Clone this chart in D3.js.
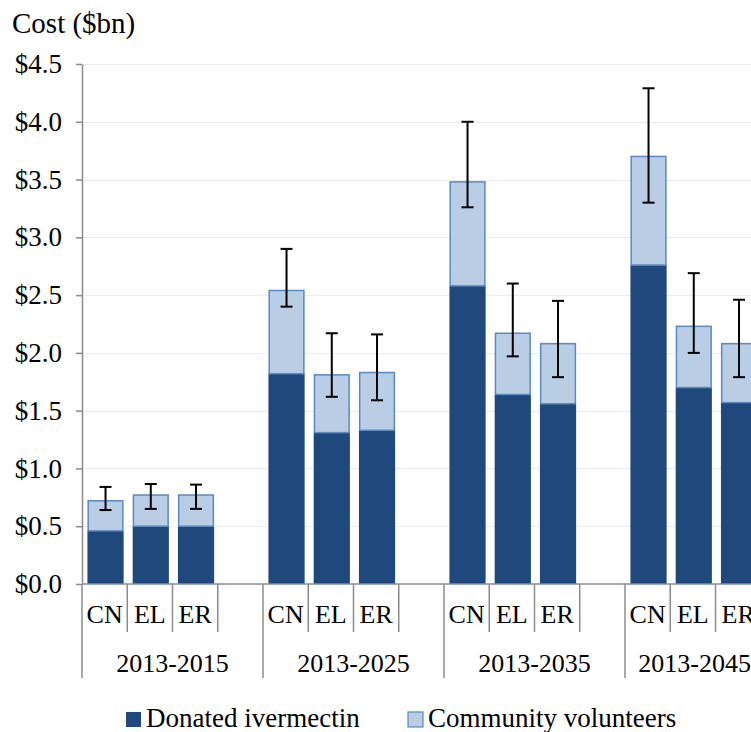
<!DOCTYPE html>
<html>
<head>
<meta charset="utf-8">
<script src="https://cdn.jsdelivr.net/npm/d3@7"></script>
<style>
  body { margin: 0; background: #fff; }
  svg { display: block; font-family: "Liberation Serif", "Times New Roman", serif; }
</style>
</head>
<body>
<svg id="chart"></svg>
<script>
const width = 751,
    height = 732,
    margin = ({ top: 64, left: 82, bottom: 148 }),
    plotRight = 806;

// data
const periods = ["2013-2015", "2013-2025", "2013-2035", "2013-2045"];
const scenarios = ["CN", "EL", "ER"];
const ivermectin = [
  [0.46, 0.50, 0.50],
  [1.82, 1.31, 1.33],
  [2.58, 1.64, 1.56],
  [2.76, 1.70, 1.57]
];
const volunteers = [
  [0.26, 0.27, 0.27],
  [0.72, 0.50, 0.50],
  [0.90, 0.53, 0.52],
  [0.94, 0.53, 0.51]
];
const errLow = [
  [0.64, 0.65, 0.65],
  [2.40, 1.62, 1.59],
  [3.26, 1.97, 1.79],
  [3.30, 2.00, 1.79]
];
const errHigh = [
  [0.84, 0.865, 0.86],
  [2.90, 2.17, 2.16],
  [4.00, 2.60, 2.45],
  [4.29, 2.69, 2.46]
];
const yTicks = [0, 0.5, 1, 1.5, 2, 2.5, 3, 3.5, 4, 4.5];

const rows = [];
periods.forEach((p, i) => {
  scenarios.forEach((s, j) => {
    rows.push({
      period: p, scenario: s,
      dark: ivermectin[i][j],
      light: volunteers[i][j],
      lo: errLow[i][j],
      hi: errHigh[i][j]
    });
  });
});

const svg = d3.select("#chart").attr("width", width).attr("height", height);

const y = d3.scaleLinear().domain([0, 4.5]).range([height - margin.bottom, margin.top]);
const x0 = d3.scaleBand().domain(periods).range([margin.left, plotRight]);
// 4 slots per group, the last one stays empty
const slot = x0.bandwidth() / 4;

// gridlines
svg.append("g")
  .selectAll("line")
  .data(yTicks.slice(1))
  .join("line")
  .attr("x1", margin.left)
  .attr("x2", width)
  .attr("y1", d => Math.round(y(d)) + 0.5)
  .attr("y2", d => Math.round(y(d)) + 0.5)
  .attr("stroke", "#ececec")
  .attr("stroke-width", 1.2);

// y axis
const yAxis = svg.append("g")
  .attr("transform", `translate(${margin.left},0)`)
  .call(d3.axisLeft(y).tickValues(yTicks).tickFormat(d => "$" + d.toFixed(1)).tickSize(6).tickSizeOuter(0));
yAxis.select(".domain").attr("stroke", "#8c8c8c").attr("stroke-width", 1.5);
yAxis.selectAll(".tick line").attr("stroke", "#8c8c8c").attr("stroke-width", 1.5);
yAxis.selectAll(".tick text")
  .attr("x", -20)
  .attr("fill", "#000")
  .style("font-size", "27px")
  .style("font-family", "Liberation Serif, serif");

svg.append("text")
  .attr("x", 12)
  .attr("y", 33)
  .style("font-size", "29px")
  .text("Cost ($bn)");

// bars
const bars = svg.append("g")
  .selectAll("g")
  .data(rows)
  .join("g")
  .attr("transform", d => `translate(${x0(d.period) + slot * scenarios.indexOf(d.scenario)},0)`);

const bw = slot * 0.8, bx = slot * 0.12;

bars.append("rect")
  .attr("x", bx)
  .attr("width", bw)
  .attr("y", d => y(d.dark))
  .attr("height", d => y(0) - y(d.dark))
  .attr("fill", "#1f497d");

bars.append("rect")
  .attr("x", bx + 0.75)
  .attr("width", bw - 1.5)
  .attr("y", d => y(d.dark + d.light))
  .attr("height", d => y(d.dark) - y(d.dark + d.light))
  .attr("fill", "#b9cde5")
  .attr("stroke", "#5a89c4")
  .attr("stroke-width", 1.5);

// error bars
const cx = bx + bw / 2;
bars.append("line")
  .attr("x1", cx).attr("x2", cx)
  .attr("y1", d => y(d.lo)).attr("y2", d => y(d.hi))
  .attr("stroke", "#000").attr("stroke-width", 2);
bars.selectAll(".cap")
  .data(d => [d.lo, d.hi])
  .join("line")
  .attr("class", "cap")
  .attr("x1", cx - 6).attr("x2", cx + 6)
  .attr("y1", d => y(d)).attr("y2", d => y(d))
  .attr("stroke", "#000").attr("stroke-width", 2);

// x axis baseline
const base = y(0);
svg.append("line")
  .attr("x1", margin.left).attr("x2", width)
  .attr("y1", base).attr("y2", base)
  .attr("stroke", "#8c8c8c").attr("stroke-width", 1.5);

// separators and labels
const groups = svg.append("g").selectAll("g")
  .data(periods)
  .join("g")
  .attr("transform", d => `translate(${x0(d)},0)`);

groups.append("line")
  .attr("x1", 0).attr("x2", 0)
  .attr("y1", base).attr("y2", base + 94)
  .attr("stroke", "#8c8c8c").attr("stroke-width", 1.5);

groups.selectAll(".sub")
  .data([1, 2, 3])
  .join("line")
  .attr("class", "sub")
  .attr("x1", d => d * slot).attr("x2", d => d * slot)
  .attr("y1", base).attr("y2", base + 48)
  .attr("stroke", "#8c8c8c").attr("stroke-width", 1.5);

groups.selectAll(".lab")
  .data(scenarios)
  .join("text")
  .attr("class", "lab")
  .attr("x", (d, i) => i * slot + slot / 2)
  .attr("y", base + 39)
  .attr("text-anchor", "middle")
  .style("font-size", "26px")
  .text(d => d);

// period labels, kept inside the visible area like the original
groups.append("text")
  .attr("y", base + 88)
  .attr("text-anchor", "middle")
  .style("font-size", "26px")
  .text(d => d)
  .attr("x", function (d) {
    const w = this.getComputedTextLength();
    const c = x0(d) + x0.bandwidth() / 2;
    return Math.min(c, width - w / 2) - x0(d);
  });

// legend
const legend = [
  { name: "Donated ivermectin", fill: "#1f497d", stroke: "none", x: 126 },
  { name: "Community volunteers", fill: "#b9cde5", stroke: "#5a89c4", x: 408 }
];
const lg = svg.append("g").selectAll("g")
  .data(legend)
  .join("g")
  .attr("transform", d => `translate(${d.x},712)`);
lg.append("rect")
  .attr("width", 15).attr("height", 15)
  .attr("fill", d => d.fill)
  .attr("stroke", d => d.stroke)
  .attr("stroke-width", 1.2);
lg.append("text")
  .attr("x", 20)
  .attr("y", 15)
  .style("font-size", "27px")
  .text(d => d.name);
</script>
</body>
</html>
